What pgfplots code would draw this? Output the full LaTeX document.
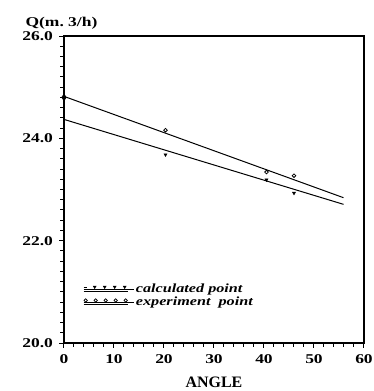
\documentclass[border=0pt]{standalone}
\usepackage{pgfplots}
\pgfplotsset{compat=1.18}
\usepackage{fontspec}
\setmainfont{Liberation Serif}
\newfontfamily\wide[FakeStretch=1.3]{Liberation Serif}
\begin{document}
\begin{tikzpicture}
\begin{axis}[
  scale only axis, width=300bp, height=307bp,
  xmin=0, xmax=60, ymin=20, ymax=26, clip=false,
  xtick={0,10,...,60}, minor x tick num=4,
  ytick={20,22,24,26}, minor y tick num=9,
  tick align=outside, xtick pos=left, ytick pos=left,
  major tick length=4.5bp, minor tick length=3.5bp,
  every tick/.style={black, line width=1bp},
  axis line style={line width=1.1bp},
  /pgf/number format/assume math mode=true,
  tick label style={font=\wide\bfseries\fontsize{13.5}{13.5}\selectfont},
  xticklabel style={yshift=-4bp},
  yticklabel style={xshift=-3bp, /pgf/number format/.cd, fixed, fixed zerofill, precision=1},
  xlabel={ANGLE},
  xlabel style={at={(axis description cs:0.5,0)}, anchor=base, yshift=-44bp,
    font=\bfseries\fontsize{16}{16}\selectfont},
  ylabel={Q(m.~3/h)},
  ylabel style={rotate=-90, at={(axis description cs:0,1)}, anchor=base west,
    xshift=-42bp, yshift=10bp, font=\wide\bfseries\fontsize{13.5}{13.5}\selectfont},
  legend style={at={(axis cs:3.8,21.2)}, anchor=north west, draw=none, fill=none,
    font=\wide\bfseries\itshape\fontsize{12.5}{12.5}\selectfont, row sep=-1bp,
    inner sep=0pt, cells={anchor=west}},
  legend cell align=left,
]
\addplot[black, line width=1bp, forget plot] coordinates {(0,24.82) (55.9,22.84)};
\addplot[black, line width=1bp, forget plot] coordinates {(0,24.37) (55.9,22.71)};
\addplot[only marks, mark=o, mark size=1.8bp, black, mark options={line width=0.8bp}, forget plot] coordinates {
  (20.3,24.16) (40.5,23.34) (46,23.27)};
\addplot[only marks, mark=*, mark size=2.2bp, black, forget plot] coordinates {(0,24.8)};
\addplot[only marks, mark=triangle*, mark size=1.8bp, black, mark options={rotate=180}, forget plot]
  coordinates {(20.3,23.68) (40.5,23.19) (46,22.93)};
\addlegendimage{legend image code/.code={
  \path (0bp,0bp) -- (50bp,0bp);
  \draw[black, line width=1bp] (0bp,-2.5bp) -- (44bp,-2.5bp);
  \draw[black, line width=1bp] (0bp,1.5bp) -- (3bp,1.5bp);
  \foreach \xx in {11,21,31,41} \fill[black] (\xx bp-1.5bp,2.8bp) -- (\xx bp+1.5bp,2.8bp) -- (\xx bp,0.2bp) -- cycle;
}}
\addlegendentry{calculated point}
\addlegendimage{legend image code/.code={
  \path (0bp,0bp) -- (50bp,0bp);
  \draw[black, line width=1bp] (0bp,-2.5bp) -- (44bp,-2.5bp);
  \foreach \xx in {2,12,22,32,42} \draw[black, line width=0.7bp] (\xx bp,1.5bp) circle (1.7bp);
}}
\addlegendentry{experiment~~point}
\end{axis}
\pgfresetboundingbox
\path (-64bp,-48bp) rectangle (310bp,343bp);
\end{tikzpicture}
\end{document}
